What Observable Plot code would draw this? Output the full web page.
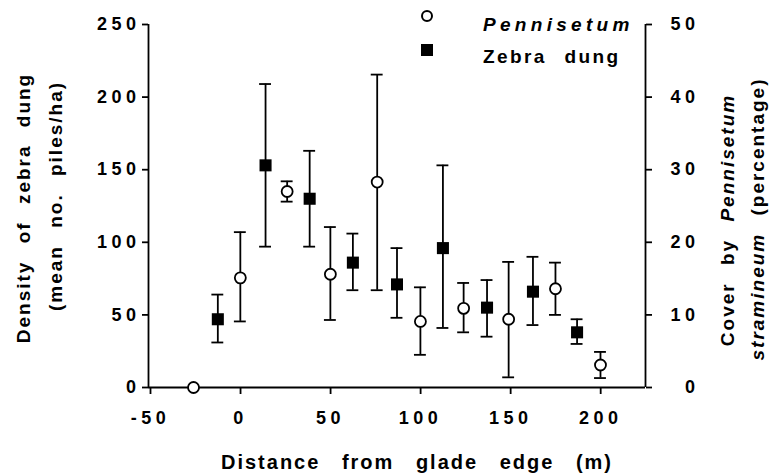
<!DOCTYPE html>
<html><head><meta charset="utf-8">
<script src="https://cdn.jsdelivr.net/npm/d3@7"></script>
<script src="https://cdn.jsdelivr.net/npm/@observablehq/plot@0.6"></script>
<style>
body{margin:0;background:#fff;}
#wrap{position:relative;width:769px;height:475px;font-family:"Liberation Sans",Arial,sans-serif;font-weight:bold;color:#000;overflow:hidden;}
.lab{position:absolute;white-space:nowrap;font-size:19px;letter-spacing:2px;word-spacing:10px;line-height:1;}
.rot{transform:translate(-50%,-50%) rotate(-90deg);}
.ctr{transform:translate(-50%,-50%);}
.lft{transform:translateY(-50%);}
.xt{font-size:20px;word-spacing:14px;}
.lg1{letter-spacing:4.3px;}
.lg2{letter-spacing:2.4px;}
svg [aria-label$="tick label"]{letter-spacing:4.5px;}
.sym{position:absolute;box-sizing:border-box;}
</style></head><body><div id="wrap"></div>
<script>
// ---- data ----
const xTicks = [-50, 0, 50, 100, 150, 200];
const leftTicks = [0, 50, 100, 150, 200, 250];
const rightTicks = [0, 10, 20, 30, 40, 50];
const xDomain = [-50, 226];
const yDomain = [0, 250];
const axisRatio = 5; // left units per right unit (250 / 50)

// Pennisetum cover (%), mean with error bar ends
const distPenn = [-25, 1, 27, 51, 77, 101, 125, 150, 176, 201];
const coverPenn = [0, 15.1, 27.0, 15.6, 28.3, 9.1, 10.9, 9.4, 13.6, 3.1];
const coverLo = [null, 9.1, 25.6, 9.3, 13.4, 4.5, 7.6, 1.4, 10.0, 1.3];
const coverHi = [null, 21.4, 28.4, 22.1, 43.1, 13.8, 14.4, 17.3, 17.2, 4.9];

// Zebra dung density (piles/ha)
const distDung = [-11.5, 15, 39.5, 63.5, 88, 113.5, 138, 163.5, 188];
const dungMean = [47, 153, 130, 86, 71, 96, 55, 66, 38];
const dungLo = [31, 97, 97, 67, 48, 41, 35, 43, 30];
const dungHi = [64, 209, 163, 106, 96, 153, 74, 90, 47];

// ---- build ----
const penn = distPenn.map((x, i) => ({x, v: coverPenn[i] * axisRatio,
  lo: coverLo[i] == null ? null : coverLo[i] * axisRatio,
  hi: coverHi[i] == null ? null : coverHi[i] * axisRatio}));
const pennErr = penn.filter(d => d.lo != null);
const dung = distDung.map((x, i) => ({x, v: dungMean[i], lo: dungLo[i], hi: dungHi[i]}));
const cap = 3.3;

const errMarks = (data) => [
  Plot.ruleX(data, {x: "x", y1: "lo", y2: "hi", strokeWidth: 1.8}),
  Plot.ruleY(data, {y: "lo", x1: d => d.x - cap, x2: d => d.x + cap, strokeWidth: 1.8}),
  Plot.ruleY(data, {y: "hi", x1: d => d.x - cap, x2: d => d.x + cap, strokeWidth: 1.8})
];

const chart = Plot.plot({
  width: 769, height: 475,
  marginLeft: 148, marginRight: 124, marginTop: 24, marginBottom: 88,
  x: {domain: xDomain},
  y: {domain: yDomain},
  style: {fontFamily: "'Liberation Sans', Arial, sans-serif", fontSize: "18px", fontWeight: "bold", background: "white", color: "black"},
  marks: [
    Plot.axisY({anchor: "left", ticks: leftTicks, tickSize: 6, tickPadding: 2, tickFormat: d => String(d), label: null, strokeWidth: 1.8}),
    Plot.axisY({anchor: "right", ticks: rightTicks.map(t => t * axisRatio), tickSize: 6, tickPadding: 48, textAnchor: "end",
      tickFormat: d => String(d / axisRatio), label: null, strokeWidth: 1.8}),
    Plot.axisX({ticks: xTicks, tickSize: 7, tickPadding: 17, tickFormat: d => String(d), label: null, strokeWidth: 1.8, dx: 2}),
    Plot.ruleX([xDomain[0], xDomain[1]], {strokeWidth: 1.8}),
    Plot.ruleY([yDomain[0]], {strokeWidth: 1.8}),
    ...errMarks(pennErr),
    ...errMarks(dung),
    Plot.dot(penn, {x: "x", y: "v", r: 5.5, fill: "white", stroke: "black", strokeWidth: 1.8}),
    Plot.dot(dung, {x: "x", y: "v", symbol: "square", r: 6.8, fill: "black", stroke: "none"})
  ]
});

const wrap = document.getElementById("wrap");
wrap.appendChild(chart);

function addLabel(html, cls, left, top) {
  const d = document.createElement("div");
  d.className = "lab " + cls;
  d.style.left = left + "px";
  d.style.top = top + "px";
  d.innerHTML = html;
  wrap.appendChild(d);
}
addLabel("Density of zebra dung", "rot", 23, 208);
addLabel("(mean no. piles/ha)", "rot", 55, 196);
addLabel("Cover by <i>Pennisetum</i>", "rot", 727, 220);
addLabel("<i>stramineum</i> (percentage)", "rot", 757, 219);
addLabel("Distance from glade edge (m)", "ctr xt", 417, 462);
addLabel("<i>Pennisetum</i>", "lft lg1", 483, 24);
addLabel("Zebra dung", "lft lg2", 483, 56);

const c = document.createElement("div");
c.className = "sym";
Object.assign(c.style, {left: "421px", top: "10px", width: "12px", height: "12px", border: "2px solid #000", borderRadius: "50%", background: "#fff"});
wrap.appendChild(c);
const s = document.createElement("div");
s.className = "sym";
Object.assign(s.style, {left: "421px", top: "44px", width: "12px", height: "12px", background: "#000"});
wrap.appendChild(s);
</script>
</body></html>
